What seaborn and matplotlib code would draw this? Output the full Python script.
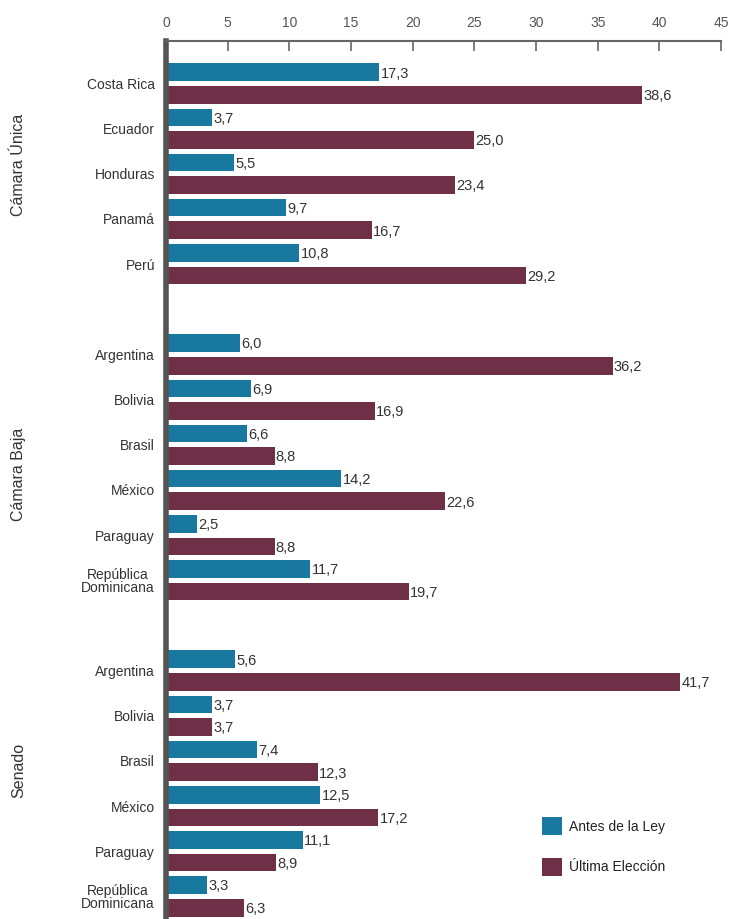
import matplotlib
matplotlib.use("Agg")
import matplotlib.pyplot as plt
import seaborn as sns
import pandas as pd
from matplotlib.patches import Patch

# ---- data ----
sections = ["Cámara Única", "Cámara Baja", "Senado"]
countries_unica = ["Costa Rica", "Ecuador", "Honduras", "Panamá", "Perú"]
antes_unica = [17.3, 3.7, 5.5, 9.7, 10.8]
ultima_unica = [38.6, 25.0, 23.4, 16.7, 29.2]

countries_baja = ["Argentina", "Bolivia", "Brasil", "México", "Paraguay", "República\nDominicana"]
antes_baja = [6.0, 6.9, 6.6, 14.2, 2.5, 11.7]
ultima_baja = [36.2, 16.9, 8.8, 22.6, 8.8, 19.7]

countries_senado = ["Argentina", "Bolivia", "Brasil", "México", "Paraguay", "República\nDominicana"]
antes_senado = [5.6, 3.7, 7.4, 12.5, 11.1, 3.3]
ultima_senado = [41.7, 3.7, 12.3, 17.2, 8.9, 6.3]

series_names = ["Antes de la Ley", "Última Elección"]
x_ticks = [0, 5, 10, 15, 20, 25, 30, 35, 40, 45]

# ---- build table (with spacer categories between sections) ----
rows = []
order = []
labels = []
groups = [(countries_unica, antes_unica, ultima_unica),
          (countries_baja, antes_baja, ultima_baja),
          (countries_senado, antes_senado, ultima_senado)]
for gi, (cs, a, u) in enumerate(groups):
    if gi > 0:
        key = f"_spacer{gi}"
        order.append(key)
        labels.append("")
        rows.append({"key": key, "serie": series_names[0], "valor": float("nan")})
        rows.append({"key": key, "serie": series_names[1], "valor": float("nan")})
    for c, va, vu in zip(cs, a, u):
        key = f"{c}_{gi}"
        order.append(key)
        labels.append(c)
        rows.append({"key": key, "serie": series_names[0], "valor": va})
        rows.append({"key": key, "serie": series_names[1], "valor": vu})
df = pd.DataFrame(rows)

blue = "#19789f"
maroon = "#6e2f47"
palette = {series_names[0]: blue, series_names[1]: maroon}

plt.rcParams["font.family"] = ["Liberation Sans", "DejaVu Sans"]
fig = plt.figure(figsize=(7.35, 9.19), dpi=100)
ax = fig.add_axes([0.226, 0.0, 0.755, 0.9554])

sns.barplot(data=df, y="key", x="valor", hue="serie", order=order,
            hue_order=series_names, palette=palette, orient="h",
            width=1.0, gap=0.22, saturation=1, legend=False, ax=ax,
            edgecolor="none")

ax.set_xlim(0, 45)
ax.set_ylim(18.5, -0.94)
ax.set_xlabel("")
ax.set_ylabel("")

# value labels
for cont in ax.containers:
    for bar in cont:
        w = bar.get_width()
        if w != w:  # nan
            continue
        ax.text(w + 0.1, bar.get_y() + bar.get_height() / 2 + 0.03,
                f"{w:.1f}".replace(".", ","), va="center", ha="left",
                fontsize=10.5, color="#333333")

# axes styling
ax.xaxis.tick_top()
ax.set_xticks(x_ticks)
ax.set_xticklabels([str(t) for t in x_ticks], fontsize=10, color="#555555")
ax.tick_params(axis="x", direction="in", length=7, width=1.2, color="#666666", pad=8)
ax.set_yticks(range(len(order)))
ax.set_yticklabels(labels, fontsize=10, color="#333333", linespacing=0.95)
for t in ax.get_yticklabels():
    t.set_multialignment("center")
ax.tick_params(axis="y", length=0, pad=8)
for s in ["right", "bottom"]:
    ax.spines[s].set_visible(False)
ax.spines["top"].set_color("#666666")
ax.spines["top"].set_linewidth(1.5)
ax.spines["left"].set_color("#555555")
ax.spines["left"].set_linewidth(4)
ax.grid(False)

# section labels
sec_centers = [1.8, 8.66, 15.2]
for name, yc in zip(sections, sec_centers):
    disp = ax.transData.transform((0, yc))
    fy = fig.transFigure.inverted().transform(disp)[1]
    fig.text(0.025, fy, name, rotation=90, va="center", ha="center",
             fontsize=11.5, color="#333333")

# legend
handles = [Patch(facecolor=blue, edgecolor="none", label=series_names[0]),
           Patch(facecolor=maroon, edgecolor="none", label=series_names[1])]
leg = ax.legend(handles=handles, loc="lower left", bbox_to_anchor=(0.655, 0.035),
                frameon=False, fontsize=10, handlelength=1.4, handleheight=1.6,
                labelspacing=1.65, handletextpad=0.55)
for t in leg.get_texts():
    t.set_color("#222222")

fig.savefig("out.png", dpi=100, facecolor="white")
